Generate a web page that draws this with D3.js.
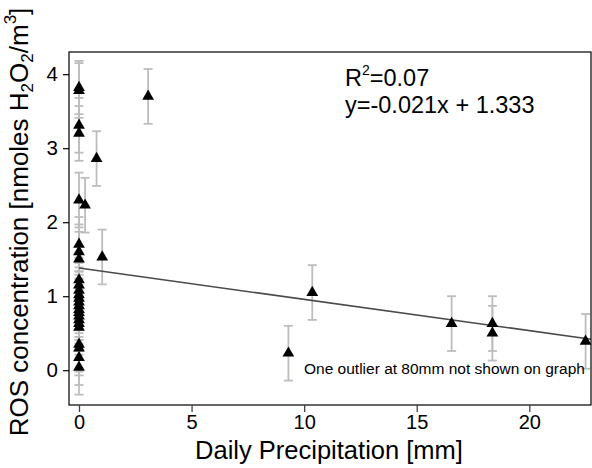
<!DOCTYPE html>
<html><head><meta charset="utf-8">
<script src="https://cdn.jsdelivr.net/npm/d3@7"></script>
<style>body{margin:0;background:#fff}svg{display:block}text{font-family:"Liberation Sans",Arial,sans-serif}</style>
</head><body>
<script>
// Daily precipitation [mm]
const precip = [0,0,0,0,0,0.27,0.78,0,0,0,1.03,0,0,0,0,0,0,0,0,0,0,0,0,0,0,0,0,3.07,9.3,10.36,16.55,18.36,18.36,22.5];
// ROS concentration [nmoles H2O2/m3]
const ros =    [3.82,3.78,3.31,3.2,2.3,2.23,2.86,1.7,1.6,1.5,1.53,1.22,1.15,1.08,1.02,0.97,0.92,0.87,0.82,0.78,0.73,0.68,0.63,0.58,0.35,0.3,0.17,3.7,0.23,1.05,0.63,0.63,0.5,0.39];
const rosErr = [0.36,0.37,0.37,0.37,0.37,0.37,0.37,0.37,0.37,0.37,0.37,0.37,0.37,0.37,0.37,0.37,0.37,0.37,0.37,0.37,0.37,0.37,0.37,0.37,0.37,0.37,0.37,0.37,0.37,0.37,0.37,0.37,0.37,0.37];
const extraRos = [0.04]; const extraErr=[0.37];
const xTicks = [0,5,10,15,20];
const yTicks = [0,1,2,3,4];
// drawn fit line endpoints (precip, ros)
const fitX = [0, 22.74];
const fitY = [1.38, 0.42];

const W=592,H=468;
const svg=d3.select("body").append("svg").attr("width",W).attr("height",H);
const x=d3.scaleLinear().domain([-0.444,22.74]).range([69,591]);
const y=d3.scaleLinear().domain([-0.47,4.30]).range([405,52]);

const pts = precip.map((p,i)=>({x:p,y:ros[i],e:rosErr[i]})).concat(extraRos.map((v,i)=>({x:0,y:v,e:extraErr[i]})));

// error bars
const eb=svg.append("g").attr("stroke","#bdbdbd").attr("stroke-width",1.8).attr("fill","none");
pts.forEach(d=>{
  const cx=x(d.x);
  eb.append("line").attr("x1",cx).attr("x2",cx).attr("y1",y(d.y+d.e)).attr("y2",y(d.y-d.e));
  [d.y+d.e,d.y-d.e].forEach(v=>eb.append("line").attr("x1",cx-4.5).attr("x2",cx+4.5).attr("y1",y(v)).attr("y2",y(v)));
});

// fit line
svg.append("line").attr("x1",x(fitX[0])).attr("y1",y(fitY[0])).attr("x2",x(fitX[1])).attr("y2",y(fitY[1]))
  .attr("stroke","#4a4a4a").attr("stroke-width",1.5);

// triangles
const sym=d3.symbol().type(d3.symbolTriangle).size(60);
svg.append("g").selectAll("path").data(pts).join("path")
  .attr("d",sym).attr("transform",d=>`translate(${x(d.x)},${y(d.y)})`).attr("fill","#000");

// frame
svg.append("rect").attr("x",69).attr("y",52).attr("width",522).attr("height",353)
  .attr("fill","none").attr("stroke","#000").attr("stroke-width",1.2);

// axes
const ax=svg.append("g").attr("transform","translate(0,405)")
  .call(d3.axisBottom(x).tickValues(xTicks).tickSize(7).tickPadding(3).tickFormat(d3.format("d")));
ax.select(".domain").remove();
ax.selectAll("line").attr("stroke","#444").attr("stroke-width",1.3);
ax.selectAll("text").attr("font-size",20).attr("font-family","Liberation Sans, Arial").attr("fill","#000");
const ay=svg.append("g").attr("transform","translate(69,0)")
  .call(d3.axisLeft(y).tickValues(yTicks).tickSize(6).tickPadding(5).tickFormat(d3.format("d")));
ay.select(".domain").remove();
ay.selectAll("line").attr("stroke","#000").attr("stroke-width",1.2);
ay.selectAll("text").attr("font-size",20.5).attr("font-family","Liberation Sans, Arial").attr("fill","#000");

// axis titles
svg.append("text").attr("x",329).attr("y",459).attr("text-anchor","middle").attr("font-size",25.5).text("Daily Precipitation [mm]");
const yl=svg.append("text").attr("transform","translate(28,222) rotate(-90)").attr("text-anchor","middle").attr("font-size",26);
yl.append("tspan").text("ROS concentration [nmoles H");
yl.append("tspan").attr("font-size",17).attr("dy",5).text("2");
yl.append("tspan").attr("dy",-5).text("O");
yl.append("tspan").attr("font-size",17).attr("dy",5).text("2");
yl.append("tspan").attr("dy",-5).text("/m");
yl.append("tspan").attr("font-size",17).attr("dy",-12).text("3");
yl.append("tspan").attr("dy",12).text("]");

// annotations
const r2=svg.append("text").attr("x",345).attr("y",86).attr("font-size",23.5);
r2.append("tspan").text("R");
r2.append("tspan").attr("font-size",14).attr("dy",-11).text("2");
r2.append("tspan").attr("dy",11).text("=0.07");
svg.append("text").attr("x",345).attr("y",113).attr("font-size",23.5).text("y=-0.021x + 1.333");
svg.append("text").attr("x",304).attr("y",374).attr("font-size",15.5).text("One outlier at 80mm not shown on graph");
</script>
</body></html>
